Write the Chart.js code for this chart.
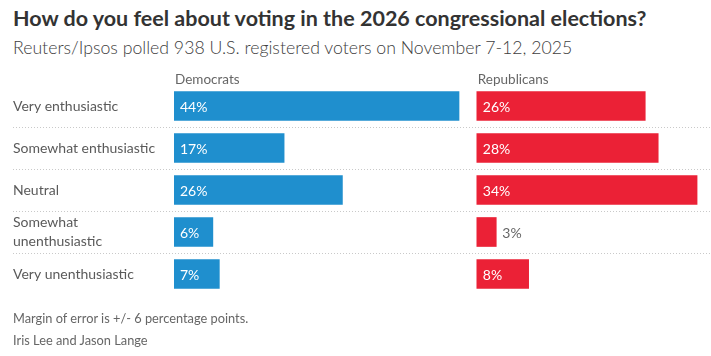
<!DOCTYPE html>
<html>
<head>
<meta charset="utf-8">
<script src="https://cdn.jsdelivr.net/npm/chart.js@4"></script>
<style>
  html, body { margin:0; padding:0; background:#fff; }
  body { width:711px; height:356px; position:relative; overflow:hidden; font-family: Lato, "Open Sans", sans-serif; }
  .t { position:absolute; left:13px; white-space:nowrap; line-height:1.2; }
  #title { top:5.5px; font-size:21.5px; font-weight:700; color:#333; }
  #subtitle { top:36.5px; font-size:17.7px; font-weight:300; color:#404040; }
  #note { top:311px; font-size:12.8px; color:#666; }
  #credit { top:332.5px; font-size:12.8px; color:#666; }
  #c { position:absolute; left:0; top:0; }
</style>
</head>
<body>
<div class="t" id="title">How do you feel about voting in the 2026 congressional elections?</div>
<div class="t" id="subtitle">Reuters/Ipsos polled 938 U.S. registered voters on November 7-12, 2025</div>
<canvas id="c" width="711" height="356"></canvas>
<div class="t" id="note">Margin of error is +/- 6 percentage points.</div>
<div class="t" id="credit">Iris Lee and Jason Lange</div>
<script>
// ---- data ----
const categories = ['Very enthusiastic', 'Somewhat enthusiastic', 'Neutral', ['Somewhat', 'unenthusiastic'], 'Very unenthusiastic'];
const seriesNames = ['Democrats', 'Republicans'];
const democrats = [44, 17, 26, 6, 7];
const republicans = [26, 28, 34, 3, 8];

// ---- style ----
const BLUE = '#1f8fce';
const RED = '#eb2136';
const SPAN = 82.9;        // visible range of each panel in %
const REP_OFFSET = 46.75; // where the Republican panel starts, in % units

Chart.defaults.font.family = 'Lato, "Open Sans", sans-serif';

const overlay = {
  id: 'overlay',
  beforeDatasetsDraw(chart) {
    const ctx = chart.ctx, y = chart.scales.y;
    ctx.save();
    ctx.strokeStyle = '#c9c9c9';
    ctx.lineWidth = 1;
    ctx.setLineDash([1, 2]);
    for (let i = 0; i < categories.length - 1; i++) {
      const py = Math.round((y.getPixelForValue(i) + y.getPixelForValue(i + 1)) / 2) + 0.5;
      ctx.beginPath();
      ctx.moveTo(13, py);
      ctx.lineTo(chart.width, py);
      ctx.stroke();
    }
    ctx.restore();
  },
  afterDatasetsDraw(chart) {
    const ctx = chart.ctx;
    ctx.save();
    ctx.textAlign = 'left';
    chart.data.datasets.forEach((ds, di) => {
      const meta = chart.getDatasetMeta(di);
      // panel header
      const first = meta.data[0];
      ctx.fillStyle = '#666';
      ctx.font = '13.5px Lato, "Open Sans", sans-serif';
      ctx.textBaseline = 'alphabetic';
      ctx.fillText(seriesNames[di], first.base + 1, first.y - first.height / 2 - 8);
      // value labels
      ctx.font = '14px Lato, "Open Sans", sans-serif';
      ctx.textBaseline = 'middle';
      meta.data.forEach((bar, i) => {
        const txt = ds.data[i] + '%';
        const w = ctx.measureText(txt).width;
        const bw = bar.x - bar.base;
        if (bw > w + 12) {
          ctx.fillStyle = '#fff';
          ctx.fillText(txt, bar.base + 6, bar.y + 1);
        } else {
          ctx.fillStyle = '#666';
          ctx.fillText(txt, bar.x + 6, bar.y + 1);
        }
      });
    });
    ctx.restore();
  }
};

new Chart(document.getElementById('c'), {
  type: 'bar',
  data: {
    labels: categories,
    datasets: [
      { label: seriesNames[0], data: democrats, xAxisID: 'x', backgroundColor: BLUE, grouped: false, barThickness: 29 },
      { label: seriesNames[1], data: republicans, xAxisID: 'x2', backgroundColor: RED, grouped: false, barThickness: 29 }
    ]
  },
  options: {
    indexAxis: 'y',
    responsive: false,
    devicePixelRatio: 1,
    animation: false,
    layout: { padding: { top: 85, bottom: 61, left: 13, right: 0 } },
    plugins: { legend: { display: false }, tooltip: { enabled: false } },
    scales: {
      y: {
        type: 'category',
        grid: { display: false },
        border: { display: false },
        ticks: {
          autoSkip: false,
          crossAlign: 'far',
          padding: 0,
          color: '#5a5a5a',
          font: { size: 14, lineHeight: 1.3 }
        },
        afterFit(scale) { scale.width = 161; }
      },
      x: { type: 'linear', axis: 'x', display: false, min: 0, max: SPAN },
      x2: { type: 'linear', axis: 'x', position: 'bottom', display: false, min: -REP_OFFSET, max: SPAN - REP_OFFSET }
    }
  },
  plugins: [overlay]
});
</script>
</body>
</html>
